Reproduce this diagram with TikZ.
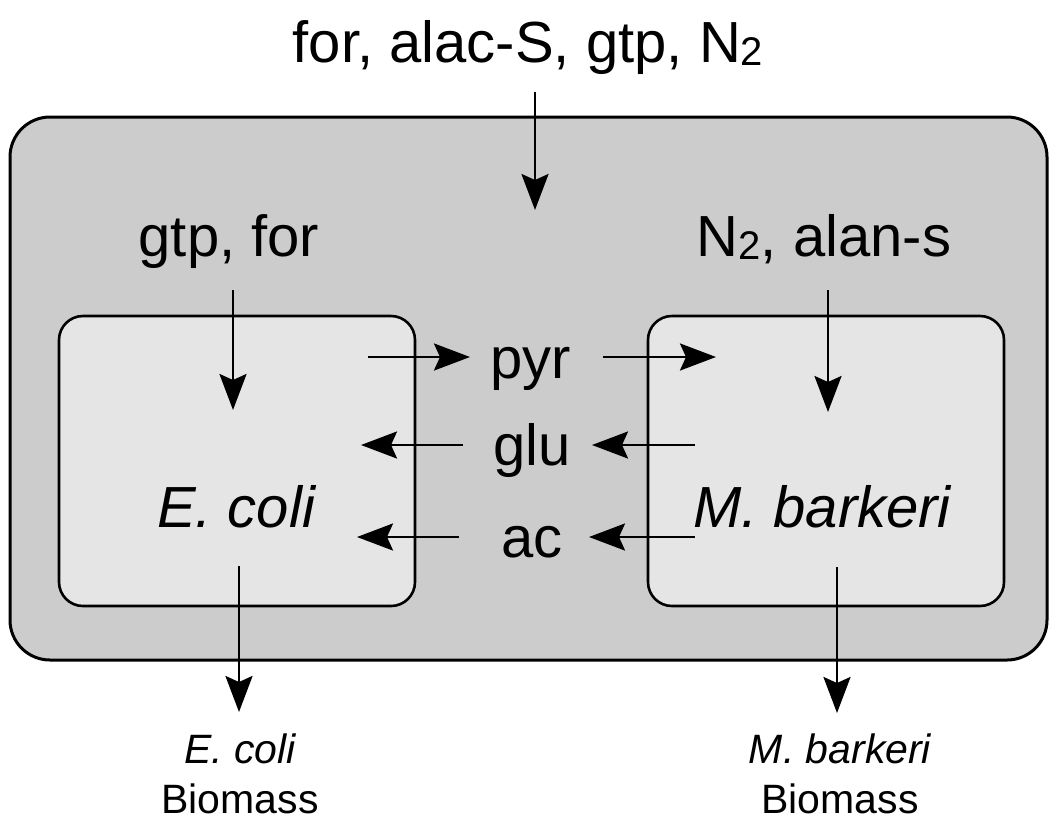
\documentclass[tikz,border=0pt]{standalone}
\usepackage{fontspec}
\setmainfont{Liberation Sans}
\usetikzlibrary{arrows.meta}
\newcommand{\bigtxt}{\fontsize{58}{62}\selectfont}
\newcommand{\smalltxt}{\fontsize{41}{46}\selectfont}
\newcommand{\subtwo}{\raisebox{-3pt}{\fontsize{40}{40}\selectfont 2}}
\begin{document}
\begin{tikzpicture}[x=1pt,y=-1pt,
  outerbox/.style={draw=black,line width=3pt,fill=black!20,rounded corners=40pt},
  cellbox/.style={draw=black,line width=2.6pt,fill=black!10,rounded corners=24pt},
  lbl/.style={inner sep=0pt,anchor=base,font=\bigtxt},
  slbl/.style={inner sep=0pt,anchor=base,font=\smalltxt,align=center},
  flow/.style={line width=2.6pt,-{Stealth[length=36pt,width=27pt,inset=6pt]}}]
\useasboundingbox (0,0) rectangle (1049,823);

% community compartment and the two organisms
\draw[outerbox] (10,117) rectangle (1047,660);
\draw[cellbox] (59,316) rectangle (415,606);
\draw[cellbox] (648,316) rectangle (1004,606);

% labels
\node[lbl] (feed) at (528,62) {for, alac-S, gtp, N\subtwo};
\node[lbl] (ecin) at (229,256) {gtp, for};
\node[lbl] (mbin) at (824,256) {N\subtwo, alan-s};
\node[lbl] (pyr) at (531,378) {pyr};
\node[lbl] (glu) at (532,465) {glu};
\node[lbl] (ac) at (532,557) {ac};
\node[lbl,font=\bigtxt\itshape] (ecoli) at (236,527) {E. coli};
\node[lbl,font=\bigtxt\itshape] (mbark) at (822,527) {M. barkeri};
\node[slbl] (ecbio) at (240,763) {\itshape E. coli};
\node[slbl] (ecbio2) at (240,813) {Biomass};
\node[slbl] (mbbio) at (840,763) {\itshape M. barkeri};
\node[slbl] (mbbio2) at (840,813) {Biomass};

% arrow end points
\coordinate (t0) at (535,92);   \coordinate (t1) at (535,210);
\coordinate (e0) at (233,290);  \coordinate (e1) at (233,410);
\coordinate (m0) at (828,290);  \coordinate (m1) at (828,412);
\coordinate (eo0) at (239,566); \coordinate (eo1) at (239,712);
\coordinate (mo0) at (837,567); \coordinate (mo1) at (837,713);
\coordinate (p0) at (368,357);  \coordinate (p1) at (470,357);
\coordinate (p2) at (603,357);  \coordinate (p3) at (716,357);
\coordinate (g0) at (463,445);  \coordinate (g1) at (361,445);
\coordinate (g2) at (695,445);  \coordinate (g3) at (592,445);
\coordinate (a0) at (459,537);  \coordinate (a1) at (357,537);
\coordinate (a2) at (695,537);  \coordinate (a3) at (589,537);

% exchange fluxes
\draw[flow] (t0) -- (t1);
\draw[flow] (e0) -- (e1);
\draw[flow] (m0) -- (m1);
\draw[flow] (eo0) -- (eo1);
\draw[flow] (mo0) -- (mo1);
\draw[flow] (p0) -- (p1);
\draw[flow] (p2) -- (p3);
\draw[flow] (g0) -- (g1);
\draw[flow] (g2) -- (g3);
\draw[flow] (a0) -- (a1);
\draw[flow] (a2) -- (a3);
\end{tikzpicture}
\end{document}
